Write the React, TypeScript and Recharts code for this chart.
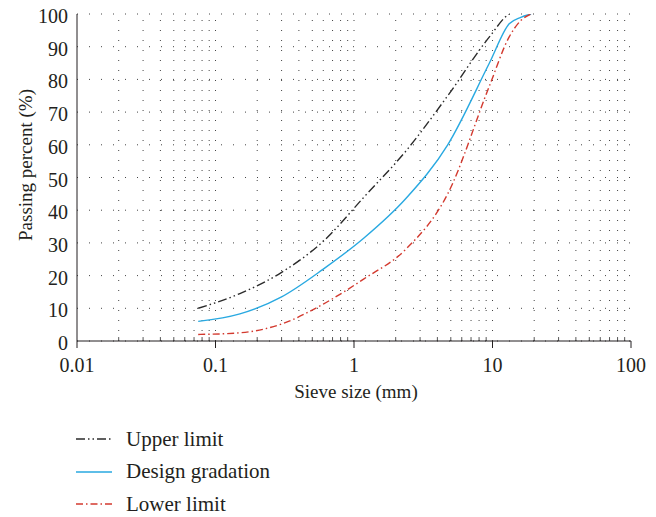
import React from 'react';
import { LineChart, Line, XAxis, YAxis, CartesianGrid, ReferenceLine, Legend, Label } from 'recharts';

// sieve sizes (mm) and passing percentages
const sieveSizes = [0.075, 0.15, 0.3, 0.6, 1.18, 2.36, 4.75, 9.5, 13.2, 16, 19];
const upperLimit = [10, 14.5, 21, 30.5, 44, 58, 75, 93, 100, 101, 100];
const designGradation = [6, 8.3, 13.5, 22, 31.5, 43.5, 60, 85, 97, 99, 100];
const lowerLimit = [2, 2.5, 5.2, 11.3, 19, 28, 45, 78, 93, 98, 100];

const xTicks = [0.01, 0.1, 1, 10, 100];
const yTicks = [0, 10, 20, 30, 40, 50, 60, 70, 80, 90, 100];
const minorX = [
  0.02, 0.03, 0.04, 0.05, 0.06, 0.07, 0.08, 0.09,
  0.2, 0.3, 0.4, 0.5, 0.6, 0.7, 0.8, 0.9,
  2, 3, 4, 5, 6, 7, 8, 9,
  20, 30, 40, 50, 60, 70, 80, 90,
];
const gridX = [...minorX, 0.1, 1, 10].sort((a, b) => a - b);

const data = sieveSizes.map((size, i) => ({
  size,
  upper: upperLimit[i],
  design: designGradation[i],
  lower: lowerLimit[i],
}));

const FONT = '"Liberation Serif", "DejaVu Serif", serif';
const TEXT = '#231f20';

const series = [
  { key: 'upper', name: 'Upper limit', color: '#2b2b2b', dash: '9 3 1.5 3 1.5 3' },
  { key: 'design', name: 'Design gradation', color: '#29a9e1', dash: undefined },
  { key: 'lower', name: 'Lower limit', color: '#d33a2f', dash: '7 3 1.5 3' },
];

const renderLegend = () => (
  <div style={{ fontFamily: FONT, fontSize: 21, color: TEXT }}>
    {series.map((s) => (
      <div key={s.key} style={{ display: 'flex', alignItems: 'center', height: 32.5 }}>
        <svg width={50} height={10}>
          <line x1={0} y1={5} x2={36} y2={5} stroke={s.color} strokeWidth={1.3} strokeDasharray={s.dash} />
        </svg>
        <span>{s.name}</span>
      </div>
    ))}
  </div>
);

const YTick = (props: any) => {
  const { x, y, payload } = props;
  return (
    <text x={x} y={y + 2} dy="0.35em" textAnchor="end" fontFamily={FONT} fontSize={20} fill={TEXT}>
      {payload.value}
    </text>
  );
};

const renderYLabel = (props: any) => {
  const vb = props.viewBox || { x: 0, y: 0, height: 0 };
  const x = vb.x + 24;
  const y = 165;
  return (
    <text x={x} y={y} transform={`rotate(-90, ${x}, ${y})`} textAnchor="middle" fontFamily={FONT} fontSize={19} fill={TEXT}>
      Passing percent (%)
    </text>
  );
};

const renderXLabel = (props: any) => {
  const vb = props.viewBox || { x: 0, y: 0, width: 0 };
  return (
    <text x={vb.x + vb.width / 2 + 2} y={vb.y + 57} textAnchor="middle" fontFamily={FONT} fontSize={19} fill={TEXT}>
      Sieve size (mm)
    </text>
  );
};

export default function App() {
  return (
    <div style={{ marginTop: -8 }}>
      <LineChart width={648} height={517} data={data} margin={{ top: 14, right: 25, bottom: 0, left: 0 }}>
        <CartesianGrid vertical={false} stroke="#444" strokeDasharray="1 11" />
        {gridX.map((v) => (
          <ReferenceLine key={`g${v}`} x={v} stroke="#444" strokeDasharray="1 9" />
        ))}
        {minorX.map((v) => (
          <ReferenceLine key={`t${v}`} segment={[{ x: v, y: 0 }, { x: v, y: 1.2 }]} stroke="#555" />
        ))}
        <XAxis
          dataKey="size"
          type="number"
          scale="log"
          domain={[0.01, 100]}
          ticks={xTicks}
          interval={0}
          allowDataOverflow
          height={82}
          tickSize={7}
          tickMargin={10}
          stroke="#231f20"
          tick={{ fontFamily: FONT, fontSize: 20, fill: TEXT }}
          tickFormatter={(v: number) => String(v)}
        >
          <Label content={renderXLabel} />
        </XAxis>
        <YAxis
          type="number"
          domain={[0, 100]}
          ticks={yTicks}
          interval={0}
          allowDataOverflow
          width={69}
          tickLine={false}
          tickMargin={3}
          stroke="#231f20"
          tick={<YTick />}
        >
          <Label content={renderYLabel} />
        </YAxis>
        <Legend
          verticalAlign="bottom"
          content={renderLegend}
          wrapperStyle={{ left: 68, top: 423, height: 94, width: 300 }}
        />
        {series.map((s) => (
          <Line
            key={s.key}
            type="monotone"
            dataKey={s.key}
            name={s.name}
            stroke={s.color}
            strokeWidth={1.4}
            strokeDasharray={s.dash}
            dot={false}
            isAnimationActive={false}
          />
        ))}
      </LineChart>
    </div>
  );
}
